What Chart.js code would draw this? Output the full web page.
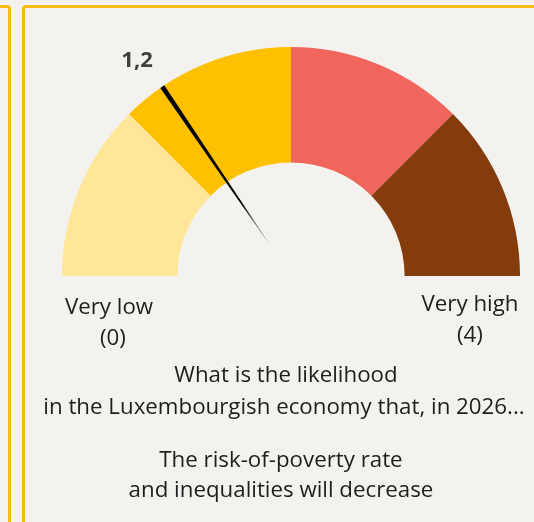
<!DOCTYPE html>
<html>
<head>
<meta charset="utf-8">
<script src="https://cdn.jsdelivr.net/npm/chart.js@4"></script>
<style>
    html, body {
        margin: 0;
        padding: 0;
        width: 534px;
        height: 522px;
        overflow: hidden;
        background: #f3f2ee;
        font-family: "Open Sans", sans-serif;
        color: #1e1e1e;
    }
    .panel {
        position: absolute;
        top: 5px;
        height: 600px;
        box-sizing: border-box;
        border: 3px solid #fdb913;
        border-radius: 4px;
    }
    #leftPanel { left: -20px; width: 31px; }
    #mainPanel { left: 22px; width: 600px; }
    #gauge {
        position: absolute;
        left: 0;
        top: 0;
    }
    .txt {
        position: absolute;
        width: 500px;
        text-align: center;
        font-size: 22.3px;
        line-height: 31px;
        white-space: nowrap;
    }
</style>
</head>
<body>
<div class="panel" id="leftPanel"></div>
<div class="panel" id="mainPanel"></div>
<canvas id="gauge" width="534" height="522"></canvas>

<div class="txt" style="left:-141px; top:290px;">Very low</div>
<div class="txt" style="left:-137px; top:321px;">(0)</div>
<div class="txt" style="left:220px; top:287px;">Very high</div>
<div class="txt" style="left:220px; top:318px;">(4)</div>

<div class="txt" style="left:36px; top:358px;">What is the likelihood</div>
<div class="txt" style="left:34px; top:390px;">in the Luxembourgish economy that, in 2026...</div>
<div class="txt" style="left:31px; top:443px;">The risk-of-poverty rate</div>
<div class="txt" style="left:31px; top:473px;">and inequalities will decrease</div>

<script>
// gauge data
const categories = ['Very low', 'Low', 'High', 'Very high'];
const segmentValues = [1, 1, 1, 1];
const segmentColors = ['#ffe699', '#ffc000', '#f0665c', '#843c0c'];
const scaleMin = 0;
const scaleMax = 4;
const needleValue = [1.24];

// needle + value label, drawn on top of the arcs
const needlePlugin = {
    id: 'needle',
    afterDatasetsDraw(chart) {
        const arcs = chart.getDatasetMeta(0).data;
        const first = arcs[0];
        const last = arcs[arcs.length - 1];
        const cx = first.x;
        const cy = first.y;
        const R = first.outerRadius;
        const start = first.startAngle;
        const end = last.endAngle;
        const v = needleValue[0];
        const a = start + (v - scaleMin) / (scaleMax - scaleMin) * (end - start);

        const ctx = chart.ctx;
        const rIn = 35;
        const halfOut = 2.4;
        const halfIn = 0.3;
        const ux = Math.cos(a), uy = Math.sin(a);
        const px = -uy, py = ux;
        const ox = cx + ux * R, oy = cy + uy * R;
        const ix = cx + ux * rIn, iy = cy + uy * rIn;

        const grad = ctx.createLinearGradient(ox, oy, ix, iy);
        grad.addColorStop(0, '#000');
        grad.addColorStop(0.72, '#000');
        grad.addColorStop(1, 'rgba(0,0,0,0)');

        ctx.save();
        ctx.beginPath();
        ctx.moveTo(ox + px * halfOut, oy + py * halfOut);
        ctx.lineTo(ox - px * halfOut, oy - py * halfOut);
        ctx.lineTo(ix - px * halfIn, iy - py * halfIn);
        ctx.lineTo(ix + px * halfIn, iy + py * halfIn);
        ctx.closePath();
        ctx.fillStyle = grad;
        ctx.fill();

        // value label
        const rl = R + 36;
        ctx.font = 'bold 22px "Open Sans"';
        ctx.fillStyle = '#404040';
        ctx.textAlign = 'center';
        ctx.textBaseline = 'middle';
        ctx.fillText(v.toFixed(1).replace('.', ','), cx + Math.cos(a) * rl - 5, cy + Math.sin(a) * rl + 4);
        ctx.restore();
    }
};

const gaugeCtx = document.getElementById('gauge').getContext('2d');
window.gaugeChart = new Chart(gaugeCtx, {
    type: 'doughnut',
    data: {
        labels: categories,
        datasets: [{
            data: segmentValues,
            backgroundColor: segmentColors,
            borderWidth: 0,
            hoverOffset: 0
        }]
    },
    options: {
        responsive: false,
        animation: false,
        rotation: -90,
        circumference: 180,
        cutout: '49.6%',
        layout: {
            padding: { left: 62, right: 14, top: 47, bottom: 246 }
        },
        plugins: {
            legend: { display: false },
            tooltip: { enabled: false }
        },
        events: []
    },
    plugins: [needlePlugin]
});
</script>
</body>
</html>
